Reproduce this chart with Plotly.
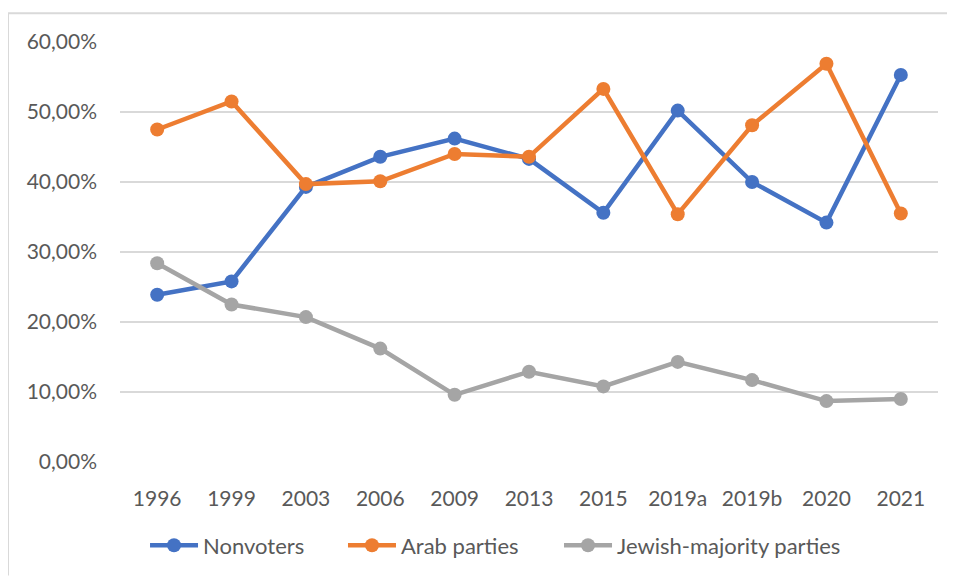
import plotly.graph_objects as go

years = ["1996", "1999", "2003", "2006", "2009", "2013", "2015", "2019a", "2019b", "2020", "2021"]
nonvoters = [0.239, 0.258, 0.393, 0.436, 0.462, 0.433, 0.356, 0.502, 0.400, 0.342, 0.553]
arab_parties = [0.475, 0.515, 0.397, 0.401, 0.440, 0.436, 0.533, 0.354, 0.481, 0.569, 0.355]
jewish_parties = [0.284, 0.225, 0.207, 0.162, 0.096, 0.129, 0.108, 0.143, 0.117, 0.087, 0.090]
y_ticks = [0, 0.1, 0.2, 0.3, 0.4, 0.5, 0.6]

series = [
    ("Nonvoters", nonvoters, "#4472C4", "legend"),
    ("Arab parties", arab_parties, "#ED7D31", "legend2"),
    ("Jewish-majority parties", jewish_parties, "#A5A5A5", "legend3"),
]

fig = go.Figure()
for name, vals, col, lg in series:
    fig.add_trace(go.Scatter(
        x=years, y=vals, name=name, mode="lines+markers",
        line=dict(color=col, width=4.5),
        marker=dict(color=col, size=14),
        legend=lg,
    ))

font_fam = "Lato, 'Open Sans', sans-serif"
leg_common = dict(orientation="h", xanchor="left", y=-0.1986, yanchor="middle",
                  font=dict(size=22, color="#595959"), itemwidth=48,
                  bgcolor="rgba(0,0,0,0)")
fig.update_layout(
    width=947, height=571,
    margin=dict(l=112, r=17, t=34, b=114),
    paper_bgcolor="white", plot_bgcolor="white",
    separators=",.",
    font=dict(family=font_fam, size=21, color="#595959"),
    showlegend=True,
    legend=dict(x=0.0306, **leg_common),
    legend2=dict(x=0.2726, **leg_common),
    legend3=dict(x=0.5367, **leg_common),
    xaxis=dict(type="category", range=[-0.5, 10.5], showgrid=False, showline=False, zeroline=False,
               ticks="outside", ticklen=0, ticklabelstandoff=18,
               tickfont=dict(size=21, color="#595959")),
    yaxis=dict(range=[0, 0.6], tickvals=y_ticks, tickformat=".2%",
               showgrid=True, gridcolor="#D9D9D9", gridwidth=1.5,
               zeroline=False, showline=False, ticklabelstandoff=22,
               tickfont=dict(size=21, color="#595959")),
    shapes=[
        dict(type="line", xref="paper", yref="paper", x0=-0.1369, x1=-0.1369, y0=1.0686, y1=-0.27,
             line=dict(color="#D9D9D9", width=2)),
        dict(type="line", xref="paper", yref="paper", x0=-0.1369, x1=1.03, y0=1.0686, y1=1.0686,
             line=dict(color="#D9D9D9", width=2)),
    ],
)

fig.write_html("out.html")
